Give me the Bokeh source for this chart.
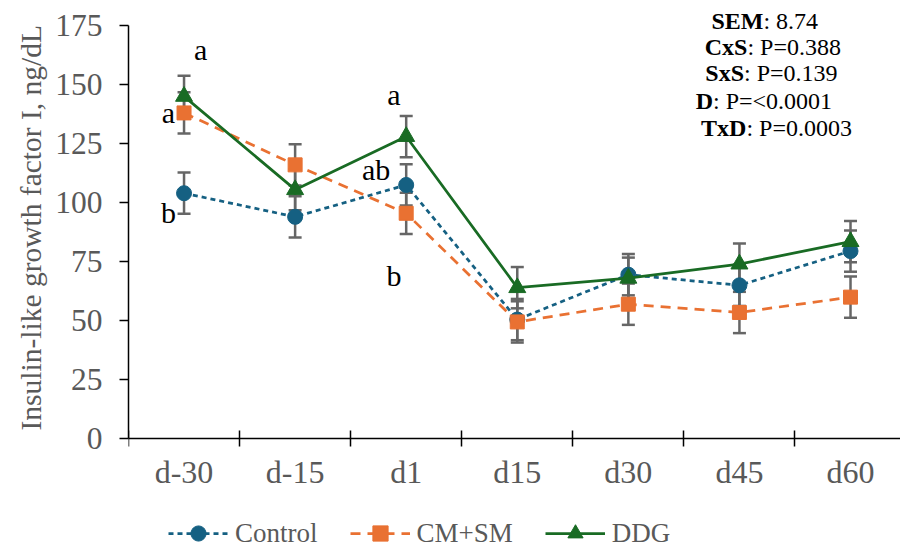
import numpy as np
from bokeh.plotting import figure
from bokeh.models import (ColumnDataSource, Whisker, TeeHead, Legend, LegendItem,
                          FixedTicker, Label, Range1d, LinearAxis, Title)
from bokeh.embed import file_html
from bokeh.resources import INLINE

# ---- data ----
days = ["d-30", "d-15", "d1", "d15", "d30", "d45", "d60"]
control = [104, 94, 107.5, 50.5, 69.5, 65, 79.5]
cm_sm = [138, 116, 95.5, 49.5, 57, 53.5, 60]
ddg = [145, 105.5, 128, 64, 68, 74, 83.5]
sem = 8.74

stats_bold = ["SEM", "CxS", "SxS", "D", "TxD"]
stats_rest = [": 8.74", ": P=0.388", ": P=0.139", ": P=<0.0001", ": P=0.0003"]

letters = ["a", "a", "b", "a", "ab", "b"]
letter_x = [0.15, -0.14, -0.14, 1.89, 1.73, 1.89]
letter_y = [165, 138, 96, 146, 114, 69]

y_title = "Insulin-like growth factor I, ng/dL"

FONT = "Liberation Serif"
GRAY = "#595959"

x = np.arange(len(days))

p = figure(frame_width=772, frame_height=555, output_backend="svg", toolbar_location=None,
           x_range=Range1d(-0.5, 6.45), y_range=Range1d(-49.4, 185.6),
           min_border_left=128, min_border_right=0, min_border_top=0,
           min_border_bottom=0, x_axis_location=None)
p.outline_line_color = None
p.grid.visible = False
p.background_fill_color = "white"
p.border_fill_color = "white"

series = [
    ("Control", control, "#156082", "5 4", "circle", 15),
    ("CM+SM", cm_sm, "#E97132", "10 7", "square", 14),
    ("DDG", ddg, "#196B24", "solid", "triangle", 17),
]

# error bars first
for name, vals, color, dash, marker, size in series:
    v = np.array(vals, dtype=float)
    src = ColumnDataSource(dict(x=x, upper=v + sem, lower=v - sem))
    w = Whisker(source=src, base="x", upper="upper", lower="lower",
                line_color="#666666", line_width=2.5,
                upper_head=TeeHead(size=13, line_color="#666666", line_width=2.5),
                lower_head=TeeHead(size=13, line_color="#666666", line_width=2.5))
    p.add_layout(w)

items = []
for name, vals, color, dash, marker, size in series:
    src = ColumnDataSource(dict(x=x, y=vals))
    l = p.line("x", "y", source=src, line_color=color, line_width=2.75, line_dash=dash)
    s = p.scatter("x", "y", source=src, marker=marker, size=size,
                  fill_color=color, line_color=color)
    items.append(LegendItem(label=name, renderers=[l, s]))

legend = Legend(items=items, orientation="horizontal", location=(40, 3),
                label_text_font=FONT, label_text_font_size="27px",
                label_text_color=GRAY, glyph_width=60, glyph_height=38,
                label_standoff=7, spacing=32, border_line_color=None,
                background_fill_alpha=0, margin=0, padding=0)
p.add_layout(legend, "center")

# x axis fixed at y = 0 inside the frame
xaxis = LinearAxis(fixed_location=0)
xaxis.ticker = FixedTicker(ticks=list(x), minor_ticks=[i - 0.5 for i in range(len(days) + 1)])
xaxis.major_label_overrides = {int(i): d for i, d in zip(x, days)}
xaxis.major_tick_line_color = None
xaxis.major_tick_out = 8
xaxis.major_tick_in = 0
xaxis.minor_tick_line_color = "black"
xaxis.minor_tick_line_width = 1.5
xaxis.minor_tick_in = 8
xaxis.minor_tick_out = 8
xaxis.axis_line_width = 1.5
xaxis.major_label_standoff = 7
xaxis.major_label_text_font = FONT
xaxis.major_label_text_font_size = "32px"
xaxis.major_label_text_color = GRAY
p.add_layout(xaxis, "below")

p.yaxis.ticker = FixedTicker(ticks=[0, 25, 50, 75, 100, 125, 150, 175], minor_ticks=[])
p.yaxis.bounds = (0, 175)
p.yaxis.axis_line_width = 1.5
p.yaxis.major_tick_in = 0
p.yaxis.major_tick_out = 9
p.yaxis.major_tick_line_width = 1.5
p.yaxis.major_label_standoff = 17
p.yaxis.major_label_text_font = FONT
p.yaxis.major_label_text_font_size = "31.5px"
p.yaxis.major_label_text_color = GRAY

# y-axis title as a side title, aligned to the bottom of the axis line
p.add_layout(Title(text=y_title, align="left", offset=125, standoff=12,
                   text_font=FONT, text_font_size="29.5px", text_font_style="normal",
                   text_color=GRAY), "left")

# stats annotation
split_x = [5.216, 5.072, 5.041, 4.762, 5.063]
line_y = [177.1, 165.7, 154.7, 143.2, 131.8]
for b, r, sx, sy in zip(stats_bold, stats_rest, split_x, line_y):
    p.add_layout(Label(x=sx, y=sy, text=b, text_font=FONT, text_font_size="24px",
                       text_font_style="bold", text_align="right",
                       text_baseline="middle", text_color="black"))
    p.add_layout(Label(x=sx, y=sy, text=r, text_font=FONT, text_font_size="24px",
                       text_align="left", text_baseline="middle", text_color="black"))

for t, lx, ly in zip(letters, letter_x, letter_y):
    p.add_layout(Label(x=lx, y=ly, text=t, text_font=FONT, text_font_size="30px",
                       text_align="center", text_baseline="middle", text_color="black"))

open("out.html", "w").write(file_html(p, INLINE))
